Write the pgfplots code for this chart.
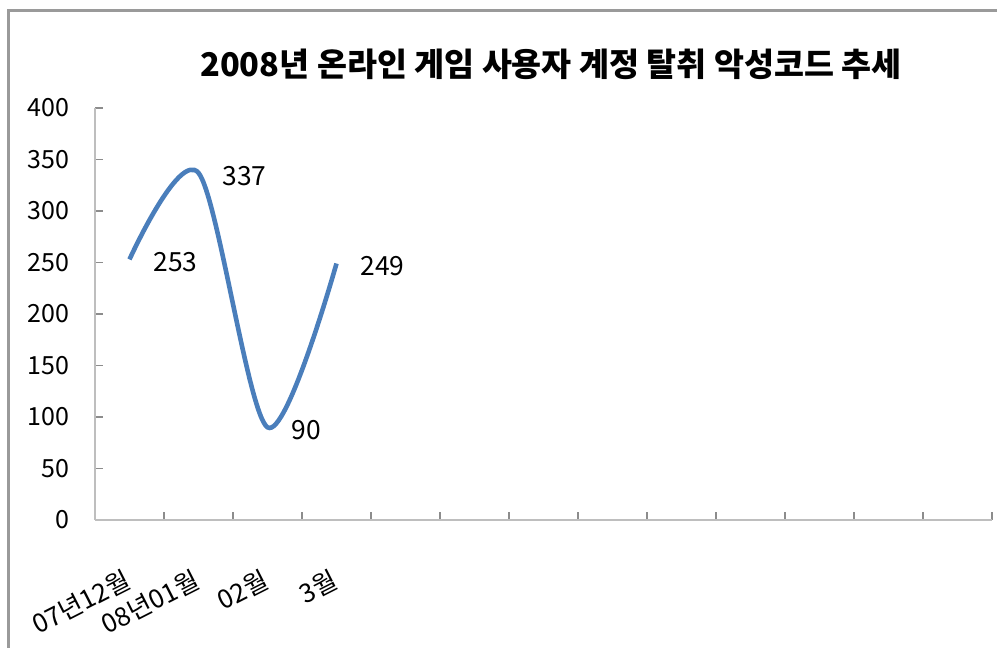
\documentclass[border=0pt]{standalone}
\usepackage{fontspec}
\setmainfont{Noto Sans CJK KR}
\usepackage{pgfplots}
\pgfplotsset{compat=1.18}

\definecolor{seriesblue}{HTML}{4A7EBB}
\definecolor{axisgray}{HTML}{BEBEBE}
\definecolor{tickgray}{HTML}{8C8C8C}
\definecolor{framegray}{HTML}{9A9A9A}

\begin{document}
\begin{tikzpicture}[x=0.5pt,y=0.5pt]
  \useasboundingbox (0,0) rectangle (997,648);
  % chart area frame (left and top edges)
  \draw[framegray, line width=1.5pt] (8,0) -- (8,637) -- (997,637);
  % chart title
  \node[font=\bfseries\fontsize{16.3}{18}\selectfont] at (551,584)
    {2008년 온라인 게임 사용자 계정 탈취 악성코드 추세};
  \begin{axis}[
    at={(47.5pt,64pt)}, anchor=south west,
    scale only axis, width=448.5pt, height=206pt,
    xmin=-0.5, xmax=12.5, ymin=0, ymax=400,
    axis x line=bottom, axis y line=left,
    axis line style={-, axisgray, line width=1pt},
    ytick={0,50,...,400},
    xtick={0,1,2,3},
    xticklabels={07년12월, 08년01월, 02월, 3월},
    minor xtick={-0.5,0.5,...,12.5},
    tick align=inside,
    major tick length=4pt, minor tick length=4pt,
    major x tick style={draw=none},
    every tick/.style={tickgray, line width=0.6pt},
    minor x tick style={tickgray, line width=0.6pt},
    /pgf/number format/assume math mode=true,
    yticklabel style={font=\fontsize{12.5}{14}\selectfont, anchor=east, xshift=-9.5pt},
    xticklabel style={font=\fontsize{13}{15}\selectfont, anchor=east, inner sep=0.5pt,
      yshift=-28.8pt, xshift=0pt, rotate=27},
    clip=false,
  ]
    \addplot[seriesblue, line width=2.3pt, smooth,
      nodes near coords,
      every node near coord/.style={anchor=west, xshift=7.5pt, yshift=-1.5pt,
        black, font=\fontsize{13.2}{15}\selectfont},
    ] coordinates {(0,253) (1,337) (2,90) (3,249)};
  \end{axis}
\end{tikzpicture}
\end{document}
